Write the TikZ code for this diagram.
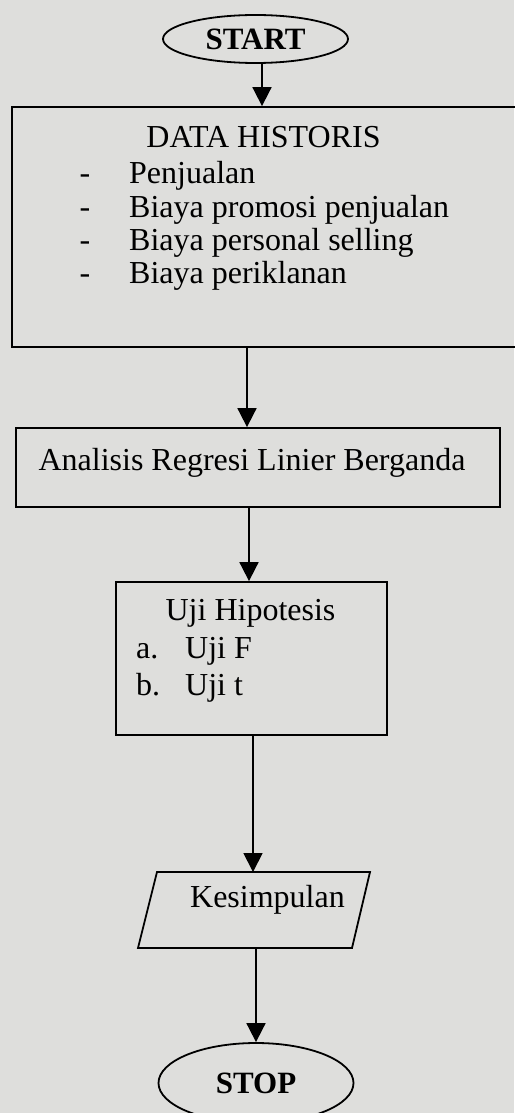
\documentclass[tikz,border=0pt]{standalone}
\usepackage{fontspec}
\setmainfont{Liberation Serif}
\usetikzlibrary{arrows.meta,shapes.geometric}
\definecolor{paper}{RGB}{222,222,220}

\tikzset{
  line/.style={draw=black, line width=1.8pt},
  term/.style={ellipse, line, inner sep=0pt, font=\fontsize{31}{34}\selectfont\bfseries},
  box/.style={rectangle, line, inner sep=0pt},
  flow/.style={line width=1.8pt, -{Triangle[width=19pt,length=19pt]}},
  txt/.style={inner sep=0pt, anchor=base, font=\fontsize{32}{36}\selectfont}
}

\begin{document}
\begin{tikzpicture}[x=1pt,y=-1pt]
\fill[paper] (0,0) rectangle (514,1113);
\useasboundingbox (0,0) rectangle (514,1113);
\coordinate (c1) at (262,0);
\coordinate (c2) at (247,0);
\coordinate (c3) at (249,0);
\coordinate (c4) at (253,0);
\coordinate (c5) at (256,0);

\node[term, minimum width=185pt, minimum height=48pt] (start) at (255.5,39) {START};

\node[box, minimum width=518pt, minimum height=240pt] (data) at (271,227) {};
\node[txt] (datatitle) at (263.5,147) {DATA HISTORIS};
\node[txt] (d1) at (85,183) {-};
\node[txt, anchor=base west] (t1) at (129,183) {Penjualan};
\node[txt] (d2) at (85,217) {-};
\node[txt, anchor=base west] (t2) at (129,217) {Biaya promosi penjualan};
\node[txt] (d3) at (85,250) {-};
\node[txt, anchor=base west] (t3) at (129,250) {Biaya personal selling};
\node[txt] (d4) at (85,283) {-};
\node[txt, anchor=base west] (t4) at (129,283) {Biaya periklanan};

\node[box, minimum width=484pt, minimum height=79pt] (anal) at (258,467.5) {};
\node[txt] (analtext) at (252,470) {Analisis Regresi Linier Berganda};

\node[box, minimum width=271pt, minimum height=153pt] (uji) at (251.5,658.5) {};
\node[txt] (ujititle) at (250.5,620) {Uji Hipotesis};
\node[txt, anchor=base west] (ua) at (136,658) {a.};
\node[txt, anchor=base west] (uf) at (185,658) {Uji F};
\node[txt, anchor=base west] (ub) at (136,695) {b.};
\node[txt, anchor=base west] (ut) at (185,695) {Uji t};

% jajaran genjang
\coordinate (k1) at (138,948);
\coordinate (k2) at (352,948);
\coordinate (k3) at (370,872);
\coordinate (k4) at (157,872);
\draw[line] (k1) -- (k2) -- (k3) -- (k4) -- cycle;
\node[txt] (kestext) at (267.5,907) {Kesimpulan};

\node[term, minimum width=195pt, minimum height=80pt] (stop) at (256,1083) {STOP};

% alur
\draw[flow] (start.south -| c1) -- (data.north -| c1);
\draw[flow] (data.south -| c2) -- (anal.north -| c2);
\draw[flow] (anal.south -| c3) -- (uji.north -| c3);
\draw[flow] (uji.south -| c4) -- (k4 -| c4);
\draw[flow] (k1 -| c5) -- (stop.north);
\end{tikzpicture}
\end{document}
